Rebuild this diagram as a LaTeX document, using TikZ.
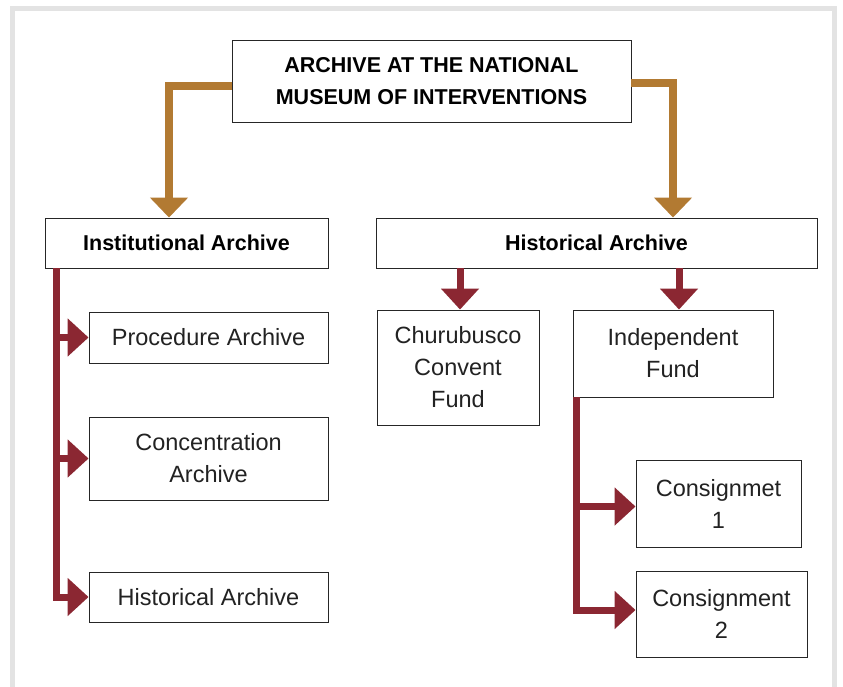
\documentclass[tikz,border=0pt]{standalone}
\usepackage{fontspec}
\setmainfont{Liberation Sans}
\usetikzlibrary{arrows.meta}
\definecolor{archgold}{RGB}{178,122,50}
\definecolor{archred}{RGB}{139,39,50}
\definecolor{framegray}{RGB}{227,227,227}
\definecolor{textgray}{RGB}{34,34,34}

\begin{document}
\begin{tikzpicture}[x=1pt, y=-1pt,
    box/.style={draw=black!85, line width=0.9pt, fill=white, inner sep=0pt, align=center,
        text=textgray, font=\fontsize{23.5}{32}\selectfont},
    headbox/.style={box, text=black, font=\fontsize{21.5}{32}\selectfont\bfseries},
    goldarrow/.style={draw=archgold, line width=7.5pt, -{Triangle[width=37pt,length=20pt]}},
    redarrow/.style={draw=archred, line width=7pt, -{Triangle[width=37pt,length=21pt]}}]
    \useasboundingbox (0,0) rectangle (843,686);
    \draw[framegray, line width=5pt] (12.5,8.5) rectangle (834.5,720);

    % boxes
    \node[headbox, minimum width=399pt, minimum height=82pt] (museum) at (431.5,81)
        {ARCHIVE AT THE NATIONAL\\MUSEUM OF INTERVENTIONS};
    \node[headbox, minimum width=283pt, minimum height=50pt] (inst) at (186.5,243) {Institutional Archive};
    \node[headbox, minimum width=441pt, minimum height=50pt] (hist) at (596.5,243) {Historical Archive};
    \node[box, minimum width=239pt, minimum height=51pt] (proc) at (208.5,337.5) {Procedure Archive};
    \node[box, minimum width=239pt, minimum height=83pt] (conc) at (208.5,458.5) {Concentration\\Archive};
    \node[box, minimum width=239pt, minimum height=50pt] (histarch) at (208.5,597) {Historical Archive};
    \node[box, minimum width=162pt, minimum height=115pt] (churu) at (458,367.5) {Churubusco\\Convent\\Fund};
    \node[box, minimum width=200pt, minimum height=87pt] (indep) at (673,353.5) {Independent\\Fund};
    \node[box, minimum width=165pt, minimum height=87pt] (cons1) at (718.5,503.5) {Consignmet\\1};
    \node[box, minimum width=171pt, minimum height=86pt] (cons2) at (721.5,614) {Consignment\\2};

    % top level
    \draw[goldarrow] ([yshift=-5pt]museum.west) -| ([xshift=-17.5pt]inst.north);
    \draw[goldarrow] ([yshift=-2pt]museum.east) -| (indep.north |- hist.north);

    % historical archive
    \draw[redarrow] ([xshift=2pt]churu.north |- hist.south) -- ([xshift=2pt]churu.north);
    \draw[redarrow] ([xshift=6pt]indep.north |- hist.south) -- ([xshift=6pt]indep.north);

    % institutional archive
    \coordinate (lspine) at ([xshift=12pt]inst.south west);
    \draw[redarrow] (lspine) |- (histarch.west);
    \foreach \sub in {proc, conc}
        \draw[redarrow] (lspine |- \sub.west) -- (\sub.west);

    % independent fund
    \coordinate (rspine) at ([xshift=4pt]indep.south west);
    \coordinate (cons1in) at ([yshift=-3pt]cons1.west);
    \draw[redarrow] (rspine) |- ([yshift=4pt]cons2.west);
    \draw[redarrow] (rspine |- cons1in) -- (cons1in);
\end{tikzpicture}
\end{document}
